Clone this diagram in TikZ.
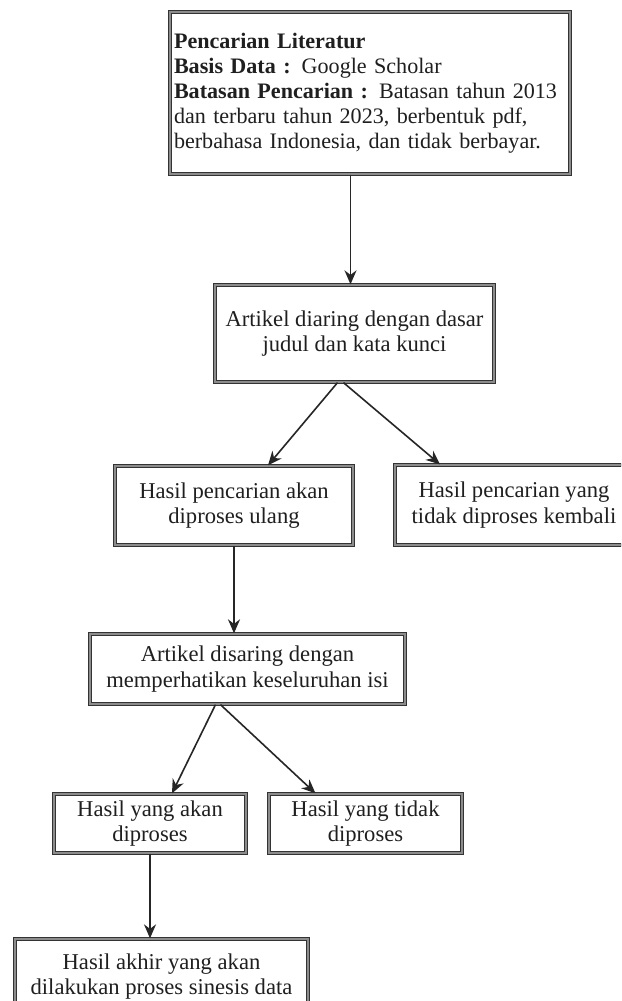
\documentclass[tikz,border=0pt]{standalone}
\usepackage{fontspec}
\setmainfont{Liberation Serif}
\usetikzlibrary{arrows.meta}
\begin{document}
\begin{tikzpicture}[x=1pt,y=-1pt,
  box/.style={draw=black!80, line width=1.3pt, double=black!45, double distance=1.6pt,
    fill=white, align=center, font=\fontsize{22.6}{25.8}\selectfont, text=black!88, inner sep=0pt},
  arr/.style={draw=black!85, line width=1.6pt, -{Stealth[length=14pt,width=12pt]}}]
\clip (0,0) rectangle (621,1001);
\fill[white] (0,0) rectangle (621,1001);

\node[box, minimum width=400pt, minimum height=162pt, text width=392pt, align=left,
  font=\fontsize{22.1}{25}\selectfont] (b1) at (370,93)
  {\textbf{Pencarian Literatur}\\
   \textbf{Basis Data :} Google Scholar\\
   \textbf{Batasan Pencarian :} Batasan tahun 2013\\
   dan terbaru tahun 2023, berbentuk pdf,\\
   berbahasa Indonesia, dan tidak berbayar.};

\node[box, minimum width=279pt, minimum height=97pt] (b2) at (354.5,333.5)
  {Artikel diaring dengan dasar\\judul dan kata kunci};

\node[box, minimum width=238pt, minimum height=79pt] (b3) at (234,505.5)
  {Hasil pencarian akan\\diproses ulang};

\node[box, minimum width=238pt, minimum height=80pt] (b4) at (514,505)
  {Hasil pencarian yang\\tidak diproses kembali};

\node[box, minimum width=315pt, minimum height=70pt] (b5) at (247.5,669)
  {Artikel disaring dengan\\memperhatikan keseluruhan isi};

\node[box, minimum width=192pt, minimum height=59pt] (b6) at (150,823.5)
  {Hasil yang akan\\diproses};

\node[box, minimum width=193pt, minimum height=59pt] (b7) at (365.5,823.5)
  {Hasil yang tidak\\diproses};

\node[box, minimum width=293pt, minimum height=75pt] (b8) at (161.5,976.5)
  {Hasil akhir yang akan\\dilakukan proses sinesis data};

\draw[arr] ([xshift=-4pt]b2.north |- b1.south) -- ([xshift=-4pt]b2.north);
\draw[arr] ([xshift=-17pt]b2.south) -- ([xshift=34pt]b3.north);
\draw[arr] ([xshift=-11pt]b2.south) -- ([xshift=-74pt]b4.north);
\draw[arr] (b3.south) -- (b3.south |- b5.north);
\draw[arr] ([xshift=-32pt]b5.south) -- ([xshift=22pt]b6.north);
\draw[arr] ([xshift=-27pt]b5.south) -- ([xshift=-50pt]b7.north);
\draw[arr] (b6.south) -- (b6.south |- b8.north);
\end{tikzpicture}
\end{document}
